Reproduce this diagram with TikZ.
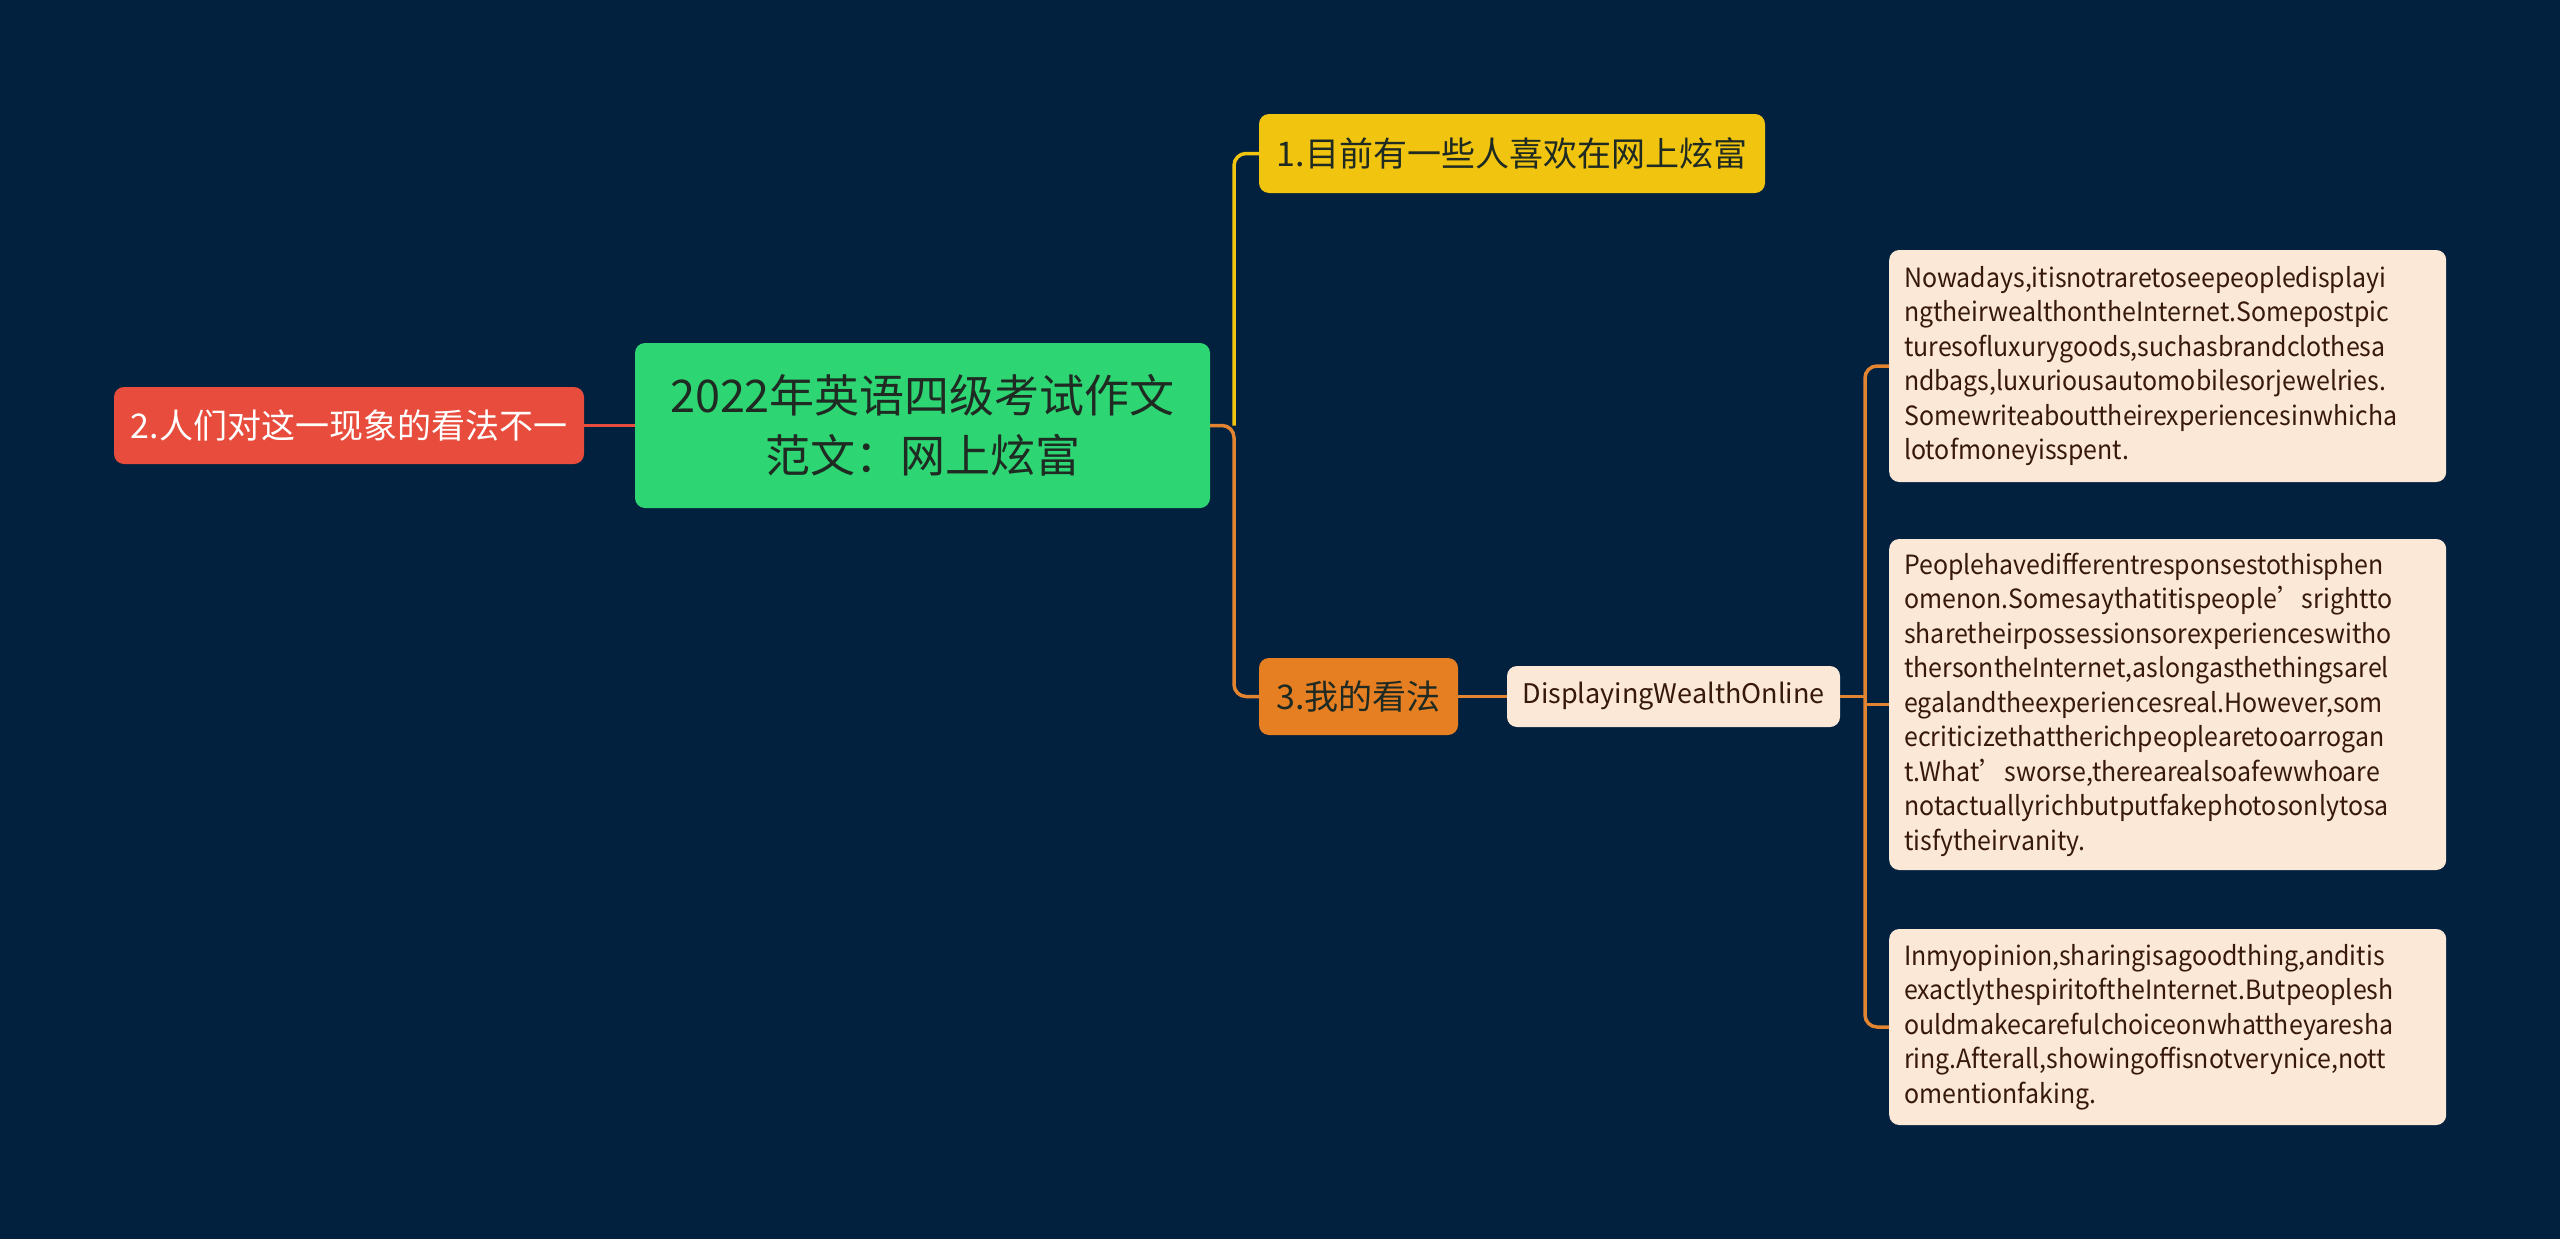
\documentclass[tikz,border=0pt]{standalone}
\usepackage{fontspec}
\setmainfont{Noto Sans CJK SC}
\newfontfamily\narrowfont[FakeStretch=0.94]{Noto Sans CJK SC}
\definecolor{bg}{RGB}{1,33,63}
\definecolor{cgreen}{RGB}{46,213,115}
\definecolor{cred}{RGB}{231,76,60}
\definecolor{cyellow}{RGB}{241,196,15}
\definecolor{corange}{RGB}{230,126,34}
\definecolor{clight}{RGB}{251,232,215}
\definecolor{lorange}{RGB}{226,132,48}
\definecolor{tdark}{RGB}{30,42,34}
\definecolor{tbrown}{RGB}{55,25,10}
\begin{document}
\begin{tikzpicture}[x=1pt,y=-1pt,
  basebox/.style={rounded corners=10pt, inner sep=0pt, align=center},
  rootbox/.style={basebox, fill=cgreen, text=tdark, minimum width=575pt, minimum height=165pt, font=\fontsize{45}{60}\selectfont},
  redbox/.style={basebox, fill=cred, text=white, minimum width=470pt, minimum height=77pt, font=\fontsize{34}{40}\selectfont},
  yelbox/.style={basebox, fill=cyellow, text=tdark, minimum width=506pt, minimum height=79pt, font=\fontsize{34}{40}\selectfont},
  orbox/.style={basebox, fill=corange, text=tdark, minimum width=199pt, minimum height=77pt, font=\fontsize{34}{40}\selectfont},
  dwobox/.style={basebox, fill=clight, text=tbrown, minimum width=333pt, minimum height=61pt, font=\fontsize{27}{32}\selectfont},
  textbox/.style={rounded corners=10pt, fill=clight, text=tbrown, anchor=west, inner xsep=15pt, inner ysep=0pt, text width=527pt, align=left, font=\narrowfont\fontsize{26.5}{34.5}\selectfont},
  oline/.style={draw=lorange, line width=3.5pt, rounded corners=12pt},
  yline/.style={draw=cyellow, line width=3.5pt, rounded corners=12pt},
  rline/.style={draw=cred, line width=3.5pt}
]
\useasboundingbox[fill=bg] (0,0) rectangle (2560,1239);

\node[rootbox] (root) at (922.5,425.5) {2022年英语四级考试作文\\范文：网上炫富};
\node[redbox] (red) at (349,425.5) {2.人们对这一现象的看法不一};
\node[yelbox] (yel) at (1512,153.5) {1.目前有一些人喜欢在网上炫富};
\node[orbox] (b3) at (1358.5,696.5) {3.我的看法};
\node[dwobox] (dwo) at (1673.5,696.5) {DisplayingWealthOnline};

\node[textbox, minimum height=232pt] (t1) at (1889,366) {Nowadays,itisnotraretoseepeopledisplayi\\ngtheirwealthontheInternet.Somepostpic\\turesofluxurygoods,suchasbrandclothesa\\ndbags,luxuriousautomobilesorjewelries.\\Somewriteabouttheirexperiencesinwhicha\\lotofmoneyisspent.};
\node[textbox, minimum height=331pt] (t2) at (1889,704.5) {Peoplehavedifferentresponsestothisphen\\omenon.Somesaythatitispeople’srightto\\sharetheirpossessionsorexperienceswitho\\thersontheInternet,aslongasthethingsarel\\egalandtheexperiencesreal.However,som\\ecriticizethattherichpeoplearetooarrogan\\t.What’sworse,therearealsoafewwhoare\\notactuallyrichbutputfakephotosonlytosa\\tisfytheirvanity.};
\node[textbox, minimum height=196pt] (t3) at (1889,1027) {Inmyopinion,sharingisagoodthing,anditis\\exactlythespiritoftheInternet.Butpeoplesh\\ouldmakecarefulchoiceonwhattheyaresha\\ring.Afterall,showingoffisnotverynice,nott\\omentionfaking.};

\coordinate (j1) at (1234,425.5);
\coordinate (j2) at (1865,696.5);
\coordinate (j2b) at (1865,704.5);

\draw[rline] (red.east) -- (root.west);
\draw[yline] (j1) |- (yel.west);
\draw[oline] (root.east) -- (j1) |- (b3.west);
\draw[oline] (b3.east) -- (dwo.west);
\draw[oline] (t1.west) -| (j2) |- (t3.west);
\draw[oline] (dwo.east) -- (j2);
\draw[oline] (j2b) -- (t2.west);
\end{tikzpicture}
\end{document}
